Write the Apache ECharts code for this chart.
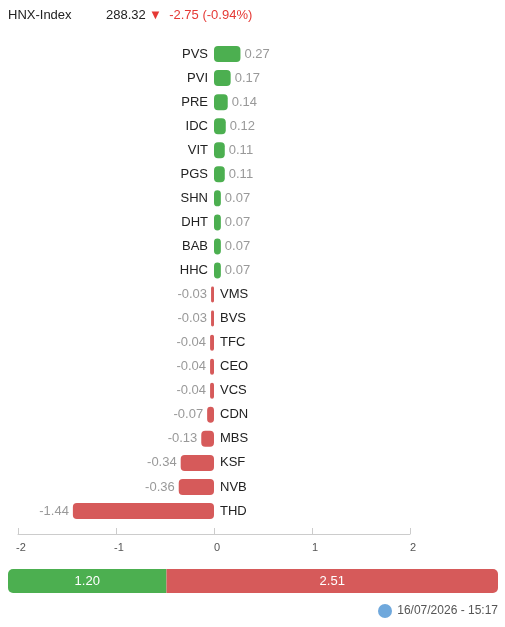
<!DOCTYPE html><html><head><meta charset="utf-8"><script src="https://cdn.jsdelivr.net/npm/echarts@6/dist/echarts.min.js"></script>
<style>body{margin:0;background:#fff}#c{width:505px;height:627px}</style></head><body><div id="c"></div><script>
const categories=['PVS','PVI','PRE','IDC','VIT','PGS','SHN','DHT','BAB','HHC','VMS','BVS','TFC','CEO','VCS','CDN','MBS','KSF','NVB','THD'];
const values=[0.27,0.17,0.14,0.12,0.11,0.11,0.07,0.07,0.07,0.07,-0.03,-0.03,-0.04,-0.04,-0.04,-0.07,-0.13,-0.34,-0.36,-1.44];
const xTicks=[-2,-1,0,1,2];
const breadth=[1.20,2.51];
const G='#4caf50',R='#d65a5a';
const ch=echarts.init(document.getElementById('c'));
const f='Arial, Liberation Sans, sans-serif';
ch.setOption({animation:false,
graphic:[
{type:'text',left:8,top:9,style:{text:'HNX-Index',font:'13px '+f,fill:'#222'}},
{type:'text',left:106,top:9,style:{rich:{a:{fill:'#222',fontSize:13,fontFamily:f},r:{fill:'#e53935',fontSize:13,fontFamily:f}},text:'{a|288.32} {r|▼  -2.75 (-0.94%)}'}},
{type:'circle',shape:{cx:385,cy:611,r:7},style:{fill:'#6fa8dc'}},
{type:'text',right:7,top:605,style:{text:'16/07/2026 - 15:17',font:'12px '+f,fill:'#555'}}
],
grid:[{left:18,right:95,top:42,bottom:104},{left:8,right:7,top:569,height:24}],
xAxis:[{gridIndex:0,type:'value',min:-2,max:2,interval:1,position:'bottom',offset:11,splitLine:{show:false},
 axisLine:{show:true,lineStyle:{color:'#ccc'}},axisTick:{show:true,inside:true,length:6,lineStyle:{color:'#ccc'}},
 axisLabel:{color:'#555',fontSize:11,fontFamily:f,margin:8,padding:[0,0,0,6]}},
 {gridIndex:1,type:'value',min:0,max:breadth[0]+breadth[1],show:false}],
yAxis:[{gridIndex:0,type:'category',data:categories,inverse:true,show:false},
 {gridIndex:1,type:'category',data:['a'],show:false}],
series:[
{type:'bar',xAxisIndex:0,yAxisIndex:0,barWidth:16,
 data:values.map(v=>({value:v,itemStyle:{color:v>=0?G:R,borderRadius:4},label:{show:true,position:v>=0?'right':'left',distance:4,color:'#999',fontSize:13,fontFamily:f,formatter:String(v.toFixed(2))}}))},
{type:'bar',xAxisIndex:0,yAxisIndex:0,barWidth:16,barGap:'-100%',
 data:values.map(v=>({value:0,itemStyle:{color:'transparent'},label:{show:true,position:v>=0?'left':'right',distance:6,color:'#222',fontSize:13,fontFamily:f,formatter:'{b}'}}))},
{type:'bar',xAxisIndex:1,yAxisIndex:1,stack:'b',barWidth:24,data:[breadth[0]],itemStyle:{color:G,borderRadius:[5,0,0,5]},label:{show:true,position:'inside',color:'#fff',fontSize:13,fontFamily:f,formatter:p=>p.value.toFixed(2)}},
{type:'bar',xAxisIndex:1,yAxisIndex:1,stack:'b',barWidth:24,data:[breadth[1]],itemStyle:{color:R,borderRadius:[0,5,5,0]},label:{show:true,position:'inside',color:'#fff',fontSize:13,fontFamily:f,formatter:p=>p.value.toFixed(2)}}
]});
</script></body></html>
